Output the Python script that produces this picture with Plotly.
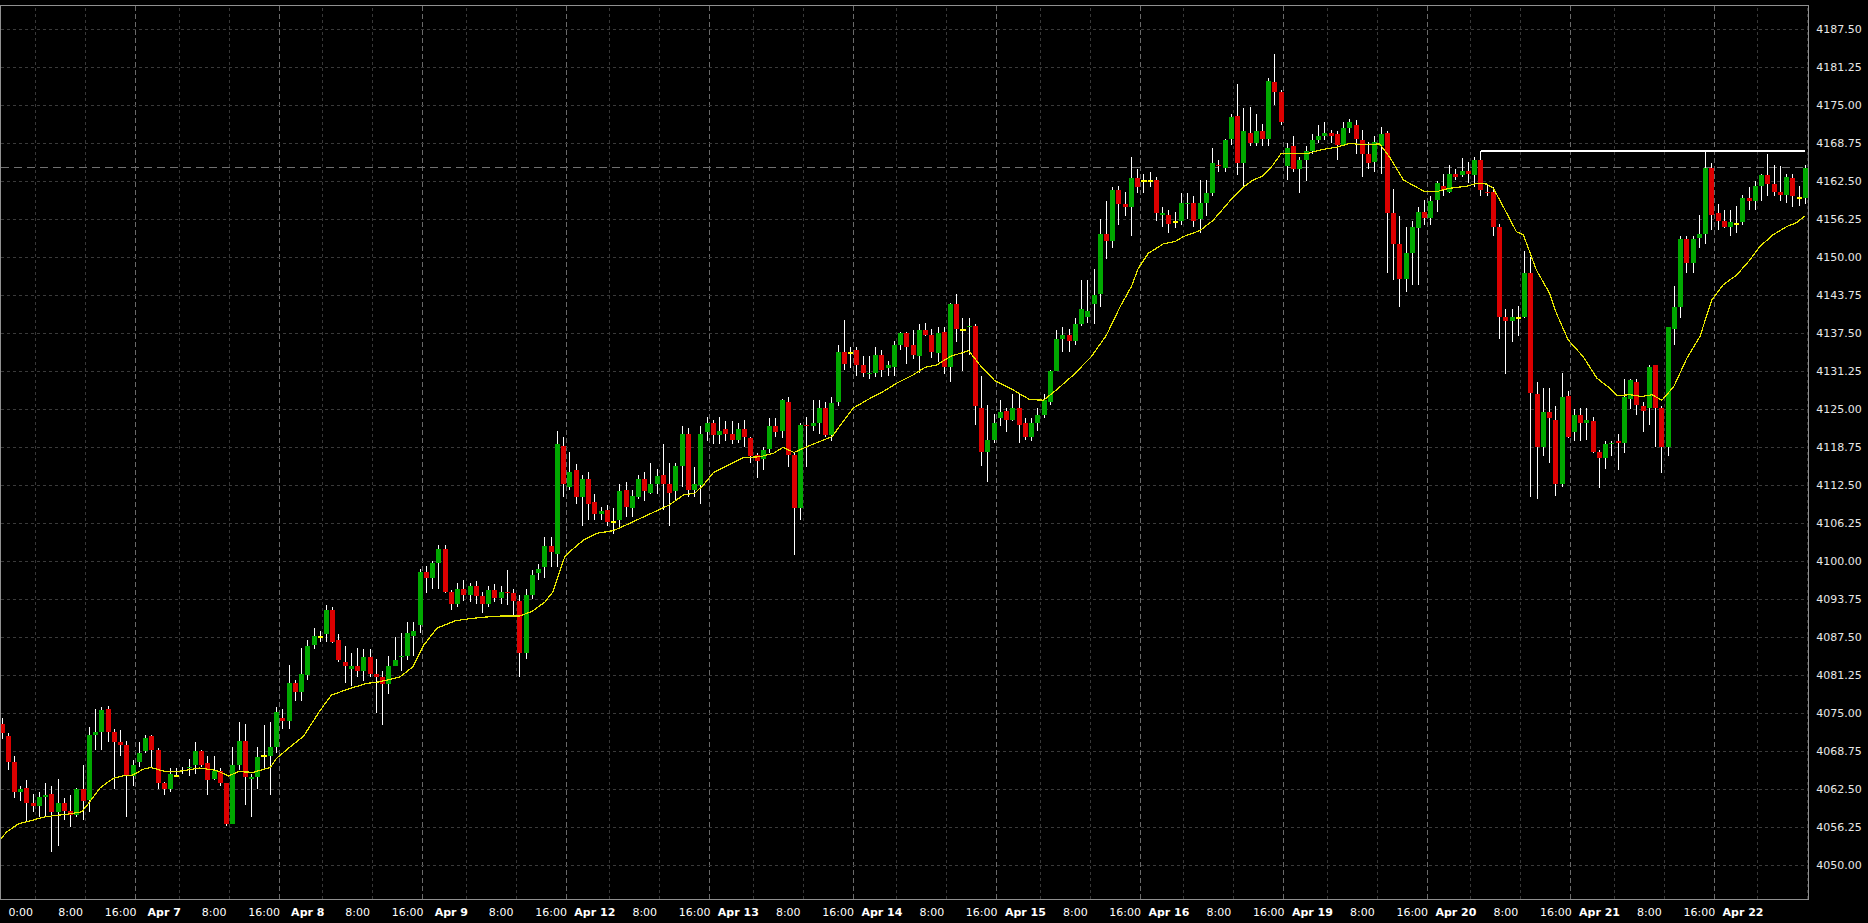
import plotly.graph_objects as go

# ---------------- data (hourly bars, 23 per trading day) ----------------
opens = [
    4073.25, 4071.25, 4067.0, 4062.0, 4062.75, 4060.25, 4059.75, 4061.25, 4061.75, 4058.75,
    4060.25, 4059.0, 4058.25, 4062.5, 4060.75, 4071.5, 4072.0, 4075.75, 4072.0, 4070.25,
    4069.75, 4064.75, 4067.0, 4068.75, 4071.25, 4069.0, 4063.5, 4062.5, 4064.75, 4065.5,
    4066.0, 4066.5, 4068.75, 4066.75, 4064.25, 4065.5, 4063.5, 4056.75, 4066.5, 4070.5,
    4064.25, 4064.5, 4068.0, 4068.0, 4069.5, 4074.25, 4073.75, 4080.0, 4078.5, 4081.25,
    4086.25, 4087.5, 4088.0, 4092.0, 4087.0, 4083.5, 4082.25, 4082.75, 4082.0, 4084.25,
    4081.5, 4081.0, 4079.75, 4082.75, 4084.25, 4084.5, 4087.75, 4089.5, 4098.25, 4097.25,
    4099.75, 4102.0, 4095.0, 4093.0, 4095.5, 4094.5, 4096.0, 4094.25, 4093.0, 4095.25,
    4094.0, 4095.0, 4094.75, 4093.5, 4085.0, 4094.5, 4098.0, 4099.0, 4102.5, 4101.25,
    4119.0, 4112.25, 4115.0, 4110.5, 4113.5, 4109.75, 4107.75, 4108.5, 4106.5, 4106.75,
    4111.75, 4108.75, 4110.5, 4113.5, 4111.25, 4112.75, 4114.25, 4112.75, 4111.5, 4115.75,
    4121.0, 4111.75, 4112.5, 4121.25, 4122.75, 4120.75, 4121.75, 4121.0, 4120.0, 4121.75,
    4120.25, 4117.5, 4116.75, 4118.5, 4122.25, 4121.5, 4126.25, 4117.5, 4108.75, 4122.5,
    4122.25, 4122.75, 4125.25, 4120.75, 4126.25, 4134.5, 4134.25, 4134.75, 4132.25, 4130.75,
    4131.0, 4134.0, 4131.75, 4132.0, 4135.5, 4137.5, 4135.5, 4133.75, 4138.0, 4137.25,
    4134.25, 4137.75, 4132.0, 4142.25, 4138.0, 4138.5, 4138.75, 4125.25, 4118.0, 4120.0,
    4123.5, 4124.75, 4123.25, 4125.25, 4122.75, 4120.5, 4122.75, 4124.0, 4126.25, 4131.25,
    4136.5, 4137.25, 4136.25, 4139.0, 4140.25, 4142.25, 4144.0, 4153.75, 4152.75, 4161.0,
    4158.75, 4158.25, 4163.0, 4162.5, 4162.5, 4162.75, 4157.0, 4157.0, 4155.75, 4156.0,
    4158.75, 4159.0, 4156.25, 4159.0, 4160.5, 4165.25, 4164.75, 4169.5, 4173.25, 4165.5,
    4170.5, 4168.75, 4170.75, 4169.5, 4178.75, 4177.25, 4165.0, 4168.25, 4164.5, 4166.0,
    4167.5, 4169.25, 4170.0, 4170.5, 4170.25, 4168.5, 4171.25, 4171.75, 4169.25, 4167.0,
    4165.75, 4168.25, 4170.5, 4157.25, 4152.25, 4146.5, 4150.75, 4154.75, 4157.5, 4156.5,
    4159.5, 4161.75, 4160.75, 4163.75, 4163.5, 4164.25, 4163.5, 4166.0, 4160.75, 4160.75,
    4155.0, 4140.25, 4139.5, 4140.0, 4140.25, 4147.5, 4127.5, 4118.75, 4124.5, 4123.25,
    4112.75, 4127.25, 4121.25, 4124.0, 4122.75, 4123.0, 4118.0, 4117.0, 4119.25, 4119.75,
    4119.5, 4126.75, 4129.5, 4125.5, 4125.25, 4132.25, 4125.25, 4118.75, 4138.25, 4141.75,
    4153.0, 4149.0, 4153.25, 4153.75, 4164.75, 4157.25, 4156.0, 4155.0, 4155.5, 4155.75,
    4159.75, 4159.25, 4161.75, 4163.5, 4162.0, 4160.75, 4160.25, 4163.0, 4159.75, 4159.75,
]
highs = [
    4074.25, 4071.75, 4068.0, 4063.0, 4064.0, 4061.75, 4062.0, 4063.5, 4063.0, 4064.25,
    4061.0, 4061.5, 4062.75, 4066.5, 4072.75, 4075.75, 4076.0, 4076.25, 4072.5, 4072.25,
    4070.5, 4067.25, 4070.25, 4071.5, 4071.5, 4069.25, 4063.75, 4066.0, 4066.0, 4066.25,
    4067.5, 4070.25, 4069.0, 4068.0, 4068.0, 4066.0, 4063.5, 4069.5, 4073.5, 4073.25,
    4065.0, 4069.5, 4073.0, 4073.5, 4076.0, 4075.75, 4083.0, 4080.5, 4085.75, 4087.0,
    4089.0, 4088.5, 4092.75, 4092.5, 4088.0, 4086.0, 4085.0, 4085.75, 4085.5, 4085.5,
    4084.0, 4082.0, 4084.5, 4087.5, 4088.25, 4090.0, 4090.0, 4098.75, 4099.25, 4100.0,
    4102.75, 4102.75, 4095.25, 4096.5, 4097.0, 4096.5, 4096.75, 4095.0, 4096.0, 4096.25,
    4096.0, 4098.5, 4095.5, 4094.5, 4095.5, 4098.5, 4099.5, 4104.0, 4104.0, 4121.5,
    4120.5, 4118.0, 4116.0, 4114.25, 4114.75, 4111.0, 4109.0, 4109.25, 4108.75, 4112.75,
    4113.0, 4111.75, 4114.25, 4114.75, 4116.25, 4115.25, 4119.25, 4116.25, 4116.25, 4122.25,
    4122.0, 4115.5, 4122.25, 4123.75, 4123.25, 4123.75, 4123.0, 4123.0, 4122.75, 4123.25,
    4120.5, 4117.75, 4118.75, 4123.5, 4123.5, 4126.75, 4127.0, 4117.75, 4122.75, 4123.75,
    4126.5, 4126.5, 4126.25, 4127.0, 4135.5, 4139.75, 4135.25, 4135.25, 4133.75, 4133.75,
    4135.25, 4134.75, 4133.0, 4136.25, 4137.75, 4137.75, 4138.0, 4139.0, 4139.25, 4138.25,
    4138.5, 4138.5, 4142.5, 4144.0, 4140.0, 4140.0, 4139.0, 4130.5, 4125.75, 4124.25,
    4126.5, 4125.25, 4127.5, 4127.5, 4123.5, 4123.5, 4125.25, 4127.5, 4131.5, 4138.0,
    4138.5, 4138.25, 4140.0, 4146.25, 4146.25, 4148.0, 4156.25, 4159.25, 4161.5, 4161.75,
    4160.75, 4166.5, 4164.5, 4163.75, 4164.0, 4163.25, 4158.25, 4157.75, 4157.5, 4160.5,
    4160.5, 4160.0, 4162.75, 4162.75, 4168.0, 4166.0, 4169.5, 4173.5, 4178.5, 4174.5,
    4174.75, 4173.5, 4172.0, 4179.5, 4183.5, 4177.5, 4168.75, 4170.0, 4166.5, 4168.25,
    4170.25, 4171.75, 4172.25, 4171.0, 4170.75, 4172.25, 4172.75, 4172.5, 4171.0, 4169.0,
    4170.0, 4171.5, 4170.75, 4161.25, 4156.75, 4155.0, 4156.0, 4158.25, 4159.5, 4160.0,
    4162.5, 4163.75, 4165.25, 4164.5, 4166.25, 4165.75, 4166.5, 4167.5, 4162.0, 4161.5,
    4155.5, 4141.5, 4141.5, 4142.0, 4151.0, 4150.0, 4129.5, 4128.5, 4128.5, 4125.5,
    4131.0, 4128.0, 4125.0, 4125.25, 4125.25, 4123.75, 4118.25, 4119.75, 4119.75, 4121.0,
    4130.0, 4130.0, 4130.0, 4126.25, 4132.25, 4132.25, 4125.5, 4138.5, 4145.25, 4153.5,
    4153.5, 4153.5, 4157.0, 4167.25, 4165.5, 4158.75, 4157.75, 4157.75, 4158.5, 4160.25,
    4161.5, 4162.5, 4163.75, 4167.0, 4165.25, 4165.0, 4163.75, 4163.75, 4161.75, 4165.25,
]
lows = [
    4070.75, 4065.75, 4061.0, 4060.5, 4057.25, 4058.75, 4058.0, 4058.0, 4052.25, 4053.25,
    4057.5, 4056.25, 4058.0, 4057.5, 4058.75, 4069.0, 4069.0, 4070.25, 4062.5, 4068.0,
    4058.0, 4063.0, 4066.25, 4068.5, 4066.25, 4062.5, 4061.5, 4062.0, 4064.5, 4065.0,
    4064.75, 4065.0, 4066.25, 4061.5, 4064.0, 4063.0, 4056.5, 4056.75, 4065.75, 4060.0,
    4058.0, 4062.5, 4065.75, 4061.5, 4068.5, 4072.5, 4072.5, 4077.0, 4077.0, 4080.5,
    4085.5, 4086.75, 4086.75, 4086.5, 4083.5, 4080.0, 4079.5, 4081.0, 4080.25, 4081.0,
    4075.0, 4073.0, 4078.25, 4082.75, 4082.0, 4083.75, 4084.5, 4088.25, 4094.75, 4095.5,
    4095.5, 4094.75, 4092.0, 4092.5, 4093.5, 4093.25, 4093.0, 4091.5, 4092.5, 4093.25,
    4093.0, 4092.75, 4091.0, 4081.0, 4084.0, 4093.75, 4097.0, 4097.25, 4099.0, 4099.0,
    4110.5, 4111.75, 4109.5, 4105.75, 4106.75, 4106.75, 4106.75, 4105.75, 4104.5, 4105.5,
    4107.25, 4107.25, 4110.25, 4110.0, 4111.0, 4111.0, 4108.5, 4105.75, 4110.0, 4112.25,
    4110.5, 4110.5, 4109.5, 4119.75, 4119.25, 4119.25, 4119.75, 4119.25, 4119.5, 4118.75,
    4116.25, 4113.75, 4115.0, 4117.75, 4120.5, 4120.25, 4115.5, 4101.0, 4106.75, 4115.5,
    4121.5, 4121.0, 4120.5, 4119.75, 4125.5, 4131.5, 4131.75, 4130.5, 4130.25, 4130.0,
    4130.25, 4130.25, 4130.5, 4130.5, 4134.75, 4132.5, 4133.25, 4131.0, 4137.0, 4133.5,
    4132.75, 4130.75, 4129.5, 4136.0, 4131.25, 4134.0, 4122.5, 4115.75, 4113.0, 4119.5,
    4122.25, 4121.25, 4123.0, 4119.5, 4120.0, 4119.75, 4121.5, 4123.5, 4125.75, 4131.25,
    4134.5, 4134.5, 4135.5, 4138.75, 4139.25, 4139.0, 4141.75, 4149.75, 4151.5, 4155.25,
    4156.75, 4153.5, 4160.5, 4160.5, 4161.5, 4156.0, 4155.0, 4154.0, 4154.75, 4155.25,
    4156.25, 4155.0, 4154.0, 4156.75, 4160.0, 4164.0, 4164.0, 4168.5, 4163.5, 4161.5,
    4168.25, 4168.25, 4168.25, 4168.25, 4175.0, 4171.75, 4162.75, 4164.0, 4160.5, 4162.5,
    4167.0, 4168.75, 4169.25, 4168.75, 4166.0, 4168.25, 4170.5, 4167.0, 4163.25, 4164.5,
    4164.0, 4163.75, 4147.5, 4146.25, 4141.75, 4144.25, 4145.5, 4145.5, 4155.25, 4155.25,
    4157.5, 4160.0, 4160.5, 4162.75, 4163.25, 4162.25, 4161.5, 4160.0, 4160.0, 4153.5,
    4136.5, 4130.75, 4136.0, 4137.0, 4140.0, 4110.5, 4110.25, 4117.25, 4116.25, 4110.75,
    4112.25, 4120.25, 4119.75, 4119.75, 4120.0, 4117.75, 4112.0, 4115.25, 4117.25, 4115.0,
    4117.75, 4125.0, 4124.0, 4121.25, 4122.5, 4118.75, 4114.5, 4117.25, 4135.5, 4140.0,
    4147.5, 4147.5, 4151.5, 4152.25, 4154.5, 4154.5, 4154.75, 4153.5, 4154.0, 4155.25,
    4157.75, 4157.75, 4159.25, 4160.0, 4160.0, 4159.25, 4159.0, 4158.25, 4158.5, 4158.75,
]
closes = [
    4071.75, 4067.0, 4062.0, 4062.5, 4060.25, 4059.75, 4061.25, 4061.5, 4058.75, 4060.25,
    4059.0, 4058.25, 4062.5, 4060.5, 4071.5, 4072.0, 4075.5, 4072.0, 4070.25, 4069.75,
    4064.75, 4066.5, 4068.5, 4071.0, 4069.0, 4063.5, 4062.5, 4065.0, 4064.75, 4065.75,
    4066.25, 4068.75, 4066.5, 4064.0, 4065.5, 4063.5, 4056.75, 4066.5, 4070.5, 4064.5,
    4064.5, 4067.75, 4068.0, 4069.5, 4075.25, 4073.75, 4080.0, 4078.5, 4081.5, 4086.0,
    4087.75, 4087.5, 4092.0, 4086.75, 4083.75, 4082.75, 4082.75, 4082.0, 4084.25, 4081.5,
    4081.0, 4079.75, 4082.75, 4083.75, 4084.5, 4088.25, 4088.5, 4098.25, 4097.25, 4099.75,
    4102.0, 4095.0, 4093.0, 4095.5, 4094.5, 4096.0, 4094.25, 4093.0, 4095.25, 4094.0,
    4095.0, 4094.75, 4093.5, 4085.0, 4094.5, 4097.75, 4098.75, 4102.5, 4101.5, 4119.25,
    4112.75, 4114.75, 4110.5, 4113.5, 4109.5, 4107.75, 4108.25, 4106.5, 4106.5, 4111.5,
    4109.0, 4110.75, 4113.5, 4111.5, 4112.75, 4114.0, 4112.75, 4111.25, 4115.75, 4121.0,
    4111.75, 4112.75, 4121.0, 4122.75, 4120.75, 4121.5, 4121.0, 4120.0, 4121.75, 4120.5,
    4117.25, 4116.5, 4118.25, 4122.25, 4121.25, 4126.5, 4117.5, 4108.75, 4122.5, 4122.25,
    4122.75, 4125.25, 4120.75, 4126.0, 4134.5, 4132.5, 4134.25, 4132.25, 4131.0, 4131.0,
    4134.0, 4131.5, 4132.25, 4135.5, 4137.5, 4135.25, 4134.0, 4138.0, 4137.25, 4134.5,
    4137.5, 4132.0, 4142.25, 4138.25, 4138.0, 4138.75, 4125.5, 4118.0, 4120.0, 4122.75,
    4124.5, 4123.25, 4125.25, 4122.5, 4120.5, 4122.75, 4124.0, 4126.5, 4131.25, 4136.5,
    4137.25, 4136.25, 4139.0, 4141.5, 4141.25, 4143.75, 4153.75, 4152.75, 4161.0, 4158.75,
    4158.25, 4163.0, 4161.5, 4162.5, 4162.5, 4157.25, 4157.25, 4155.5, 4155.75, 4159.0,
    4159.0, 4156.0, 4159.0, 4160.5, 4165.5, 4165.0, 4169.25, 4173.0, 4165.5, 4170.75,
    4168.75, 4170.75, 4169.5, 4179.0, 4177.25, 4172.25, 4168.0, 4164.5, 4166.0, 4167.5,
    4169.25, 4170.0, 4170.5, 4170.0, 4168.5, 4171.25, 4172.25, 4169.5, 4167.0, 4165.5,
    4169.0, 4170.25, 4157.25, 4152.25, 4146.5, 4150.75, 4155.0, 4157.5, 4156.5, 4159.25,
    4162.25, 4161.0, 4163.75, 4163.25, 4164.25, 4163.75, 4166.0, 4161.0, 4160.5, 4155.0,
    4140.25, 4139.5, 4140.25, 4140.0, 4147.5, 4127.75, 4118.75, 4124.5, 4123.5, 4112.75,
    4127.0, 4120.5, 4124.0, 4122.75, 4123.25, 4118.0, 4117.0, 4119.25, 4119.5, 4119.5,
    4127.0, 4129.75, 4125.75, 4124.75, 4132.0, 4125.25, 4118.75, 4138.5, 4141.75, 4153.0,
    4149.0, 4153.0, 4153.75, 4164.75, 4157.0, 4156.0, 4155.0, 4155.75, 4155.5, 4159.75,
    4159.25, 4161.75, 4163.5, 4162.0, 4160.75, 4160.25, 4163.25, 4160.0, 4159.75, 4164.75,
]

# moving average : bar position, value
ma_x = [-0.3, 0.75, 2.6, 5.0, 7.0, 10.4, 12.8, 14.1, 15.7, 17.8, 19.4, 21.0, 22.6, 23.8,
        25.9, 28.0, 31.7, 34.4, 36.3, 37.9, 40.3, 43.0, 44.0, 46.2, 48.3, 51.0, 52.8, 55.8,
        58.4, 60.6, 63.8, 65.9, 67.5, 69.7, 72.6, 74.5, 77.0, 80.0, 83.0, 85.0, 87.0, 88.3,
        88.9, 90.2, 91.0, 93.2, 95.3, 98.0, 100.6, 102.8, 104.9, 107.0, 109.2, 111.0, 112.4,
        114.0, 116.7, 118.8, 121.5, 123.6, 125.2, 126.9, 129.0, 131.1, 133.0, 134.6, 136.4,
        139.1, 141.2, 143.4, 146.0, 147.9, 149.8, 152.0, 154.9, 156.7, 159.1, 162.0, 164.7,
        166.9, 169.0, 171.7, 174.6, 177.0, 179.2, 181.0, 182.1, 183.7, 186.1, 188.0, 189.3,
        192.0, 194.1, 196.8, 199.0, 200.5, 202.1, 203.7, 205.0, 206.7, 209.3, 211.7, 213.9,
        216.0, 218.2, 220.8, 222.4, 224.6, 226.7, 228.0, 229.9, 232.0, 234.7, 236.6, 237.9,
        239.0, 240.6, 242.7, 243.8, 245.9, 248.0, 249.1, 251.0, 253.4, 255.6, 257.7, 258.8,
        260.9, 262.8, 264.4, 266.0, 267.9, 270.0, 272.1, 274.0, 275.8, 278.0, 280.1, 281.7,
        283.8, 286.0, 287.6, 288.9]
ma_y = [4054.2, 4055.5, 4056.8, 4057.5, 4058.0, 4058.4, 4058.8, 4060.5, 4062.7, 4064.3,
        4064.7, 4064.85, 4065.8, 4066.1, 4065.5, 4065.4, 4066.0, 4065.6, 4064.7, 4065.4,
        4065.3, 4066.1, 4067.6, 4069.5, 4071.2, 4075.5, 4078.0, 4079.1, 4079.9, 4080.2,
        4081.0, 4082.7, 4086.1, 4089.0, 4090.2, 4090.5, 4090.8, 4091.0, 4091.0, 4091.8,
        4093.3, 4095.0, 4096.9, 4100.8, 4101.6, 4103.5, 4104.6, 4105.05, 4106.25, 4107.25,
        4108.3, 4109.3, 4110.9, 4111.2, 4112.55, 4114.6, 4116.0, 4117.05, 4117.2, 4117.75,
        4118.75, 4117.9, 4118.85, 4119.7, 4120.5, 4122.7, 4125.2, 4126.8, 4127.9, 4129.3,
        4130.65, 4131.9, 4132.3, 4133.7, 4134.65, 4132.3, 4129.7, 4128.2, 4126.6, 4126.5,
        4128.2, 4130.65, 4133.7, 4137.2, 4141.9, 4145.2, 4148.2, 4150.65, 4152.2, 4152.6,
        4153.4, 4154.4, 4156.1, 4159.3, 4161.6, 4162.7, 4163.4, 4165.2, 4167.1, 4167.0,
        4167.1, 4167.75, 4168.1, 4168.75, 4168.5, 4168.65, 4166.45, 4162.7, 4161.6, 4160.8,
        4160.8, 4161.35, 4161.7, 4162.2, 4162.05, 4161.35, 4158.3, 4154.2, 4153.7, 4147.9,
        4144.1, 4140.8, 4136.4, 4133.65, 4130.1, 4128.45, 4127.25, 4127.4, 4127.1, 4127.4,
        4126.5, 4128.7, 4133.4, 4136.95, 4143.0, 4145.45, 4147.1, 4149.55, 4151.75, 4153.7,
        4155.05, 4155.7, 4156.8]

# horizontal resistance level (white line)
level_price = 4167.5
level_from_bar = 237

# time axis
day_labels = ["0:00", "Apr 7", "Apr 8", "Apr 9", "Apr 12", "Apr 13", "Apr 14",
              "Apr 15", "Apr 16", "Apr 19", "Apr 20", "Apr 21", "Apr 22"]
hour_labels = ["8:00", "16:00"]
hour_offsets = [7, 15]
bars_per_day = 23
first_day_start = -2

# price axis
y_ticks = [4050.0 + 6.25 * k for k in range(23)]

assert len(opens) == len(highs) == len(lows) == len(closes) == 290
assert len(ma_x) == len(ma_y)

# ---------------- figure ----------------
n = len(closes)
X_MIN, X_MAX = -0.16, 289.42
Y_MIN, Y_MAX = 4044.46, 4191.33

wx, wy = [], []
gx, gy, rx, ry, dx, dy = [], [], [], [], [], []
for i in range(n):
    o, h, l, c = opens[i], highs[i], lows[i], closes[i]
    wx += [i, i, None]
    wy += [l, h, None]
    if c > o:
        gx += [i, i, None]
        gy += [o, c, None]
    elif c < o:
        rx += [i, i, None]
        ry += [o, c, None]
    else:
        dx += [i - 0.42, i + 0.42, None]
        dy += [c, c, None]

fig = go.Figure()
fig.add_trace(go.Scatter(x=wx, y=wy, mode="lines", line=dict(color="#ffffff", width=1),
                         hoverinfo="skip", showlegend=False))
fig.add_trace(go.Scatter(x=gx, y=gy, mode="lines", line=dict(color="#00a800", width=5),
                         hoverinfo="skip", showlegend=False))
fig.add_trace(go.Scatter(x=rx, y=ry, mode="lines", line=dict(color="#dc0000", width=5),
                         hoverinfo="skip", showlegend=False))
fig.add_trace(go.Scatter(x=dx, y=dy, mode="lines", line=dict(color="#ffff00", width=2),
                         hoverinfo="skip", showlegend=False))
fig.add_trace(go.Scatter(x=ma_x, y=ma_y, mode="lines", line=dict(color="#e6e600", width=1.2),
                         hoverinfo="skip", showlegend=False))
fig.add_trace(go.Scatter(x=[level_from_bar, n - 1], y=[level_price, level_price], mode="lines",
                         line=dict(color="#ffffff", width=1.5), hoverinfo="skip", showlegend=False))

# time grid + labels
shapes = []
tickvals, ticktext = [], []
for k, lab in enumerate(day_labels):
    s = first_day_start + bars_per_day * k
    if s + 0.4 > X_MIN:
        shapes.append(dict(type="line", xref="x", yref="paper", x0=s + 0.4, x1=s + 0.4, y0=0, y1=1,
                           line=dict(color="#6a6a6a", width=1, dash="5px,3px"), layer="below"))
    pos = s + 5.0
    if pos + 2.5 <= n - 1:
        tickvals.append(pos)
        ticktext.append(f"<b>{lab}</b>" if lab.startswith("Apr") else lab)
    for hl, off in zip(hour_labels, hour_offsets):
        gpos = s + off + 0.4
        if X_MIN < gpos < X_MAX:
            shapes.append(dict(type="line", xref="x", yref="paper", x0=gpos, x1=gpos, y0=0, y1=1,
                               line=dict(color="#383838", width=1, dash="3px,3px"), layer="below"))
        lpos = s + off + 6.0
        if lpos + 2.5 <= n - 1 and lpos > X_MIN:
            tickvals.append(lpos)
            ticktext.append(hl)

# last price dashed line
shapes.append(dict(type="line", xref="paper", yref="y", x0=0, x1=1, y0=closes[-1], y1=closes[-1],
                   line=dict(color="#707070", width=1, dash="8px,5px"), layer="below"))

fig.update_layout(
    width=1868, height=923, autosize=False,
    margin=dict(l=1, r=60, t=6, b=24, pad=0),
    paper_bgcolor="#000000", plot_bgcolor="#000000",
    font=dict(family="DejaVu Sans", size=11, color="#ffffff"),
    showlegend=False, hovermode=False,
    shapes=shapes,
    xaxis=dict(range=[X_MIN, X_MAX], showgrid=False, zeroline=False,
               tickmode="array", tickvals=tickvals, ticktext=ticktext,
               ticks="outside", ticklen=3, tickcolor="#000000",
               tickfont=dict(family="DejaVu Sans", size=11, color="#ffffff"),
               showline=True, mirror=True, linecolor="#909090", linewidth=1, fixedrange=True),
    yaxis=dict(range=[Y_MIN, Y_MAX], side="right", zeroline=False,
               tickmode="array", tickvals=y_ticks, ticktext=[f"{v:.2f}" for v in y_ticks],
               showgrid=True, gridcolor="#3a3a3a", gridwidth=1, griddash="3px,3px",
               ticks="outside", ticklen=5, tickcolor="#000000",
               tickfont=dict(family="DejaVu Sans", size=11, color="#e8e8e8"),
               showline=True, mirror=True, linecolor="#909090", linewidth=1, fixedrange=True),
)

fig.write_html(
    "out.html", config={"displayModeBar": False},
    post_script=(
        "document.body.style.margin='0';document.body.style.overflow='hidden';"
        "document.querySelectorAll('.scatterlayer path, .shapelayer path, .gridlayer path')"
        ".forEach(function(p){p.setAttribute('shape-rendering','crispEdges');});"
    ),
)
